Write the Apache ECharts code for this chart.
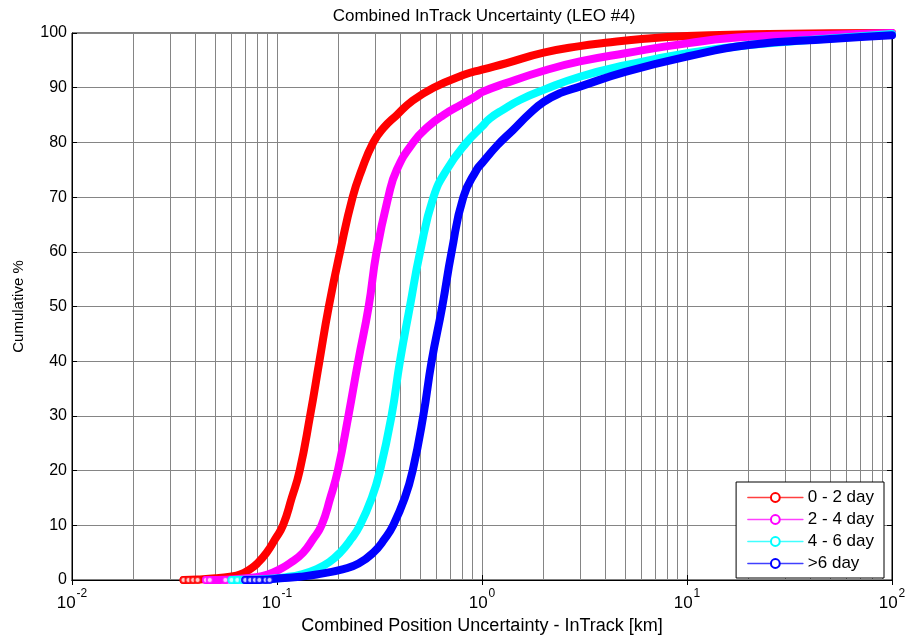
<!DOCTYPE html>
<html>
<head>
<meta charset="utf-8">
<title>Combined InTrack Uncertainty (LEO #4)</title>
<script src="https://cdn.jsdelivr.net/npm/echarts@6/dist/echarts.min.js"></script>
<style>
  html, body { margin: 0; padding: 0; background: #fff; }
  #chart { width: 909px; height: 635px; }
</style>
</head>
<body>
<div id="chart"></div>
<script>
// Cumulative distribution of combined in-track position uncertainty [km] vs. cumulative %
const seriesNames = ['0 - 2 day', '2 - 4 day', '4 - 6 day', '>6 day'];
const seriesColors = ['#ff0000', '#ff00ff', '#00ffff', '#0000ff'];

const cdf0to2 = [
  [0.035, 0], [0.041, 0.1], [0.05, 0.3], [0.059, 0.6], [0.066, 1], [0.074, 2], [0.08, 3],
  [0.089, 5], [0.098, 7.5], [0.107, 10], [0.118, 15], [0.129, 20], [0.145, 30], [0.161, 40],
  [0.179, 50], [0.203, 60], [0.234, 70], [0.259, 75], [0.295, 80], [0.33, 82.6], [0.384, 85],
  [0.454, 87.5], [0.58, 90], [0.81, 92.3], [1.0, 93.3], [1.32, 94.5], [2, 96.4], [3, 97.6],
  [4, 98.2], [6, 98.9], [10, 99.45], [20, 99.75], [50, 99.95], [100, 100]
];
const cdf2to4 = [
  [0.045, 0], [0.06, 0.1], [0.079, 0.5], [0.09, 1], [0.1035, 2], [0.115, 3], [0.134, 5],
  [0.15, 7.5], [0.165, 10], [0.182, 15], [0.198, 20], [0.223, 30], [0.249, 40], [0.28, 50],
  [0.306, 60], [0.349, 70], [0.384, 75], [0.462, 80], [0.55, 83], [0.648, 85], [0.8, 87],
  [0.94, 88.5], [1.0, 89.2], [1.3, 90.8], [2, 93.1], [3, 94.8], [5, 96.3], [10, 98.1],
  [20, 99.3], [50, 99.7], [100, 100]
];
const cdf4to6 = [
  [0.06, 0], [0.08, 0.1], [0.1, 0.3], [0.111, 0.5], [0.13, 1], [0.156, 2], [0.18, 3.3],
  [0.203, 5], [0.23, 7.5], [0.254, 10], [0.29, 15], [0.318, 20], [0.362, 30], [0.398, 40],
  [0.445, 50], [0.499, 60], [0.58, 70], [0.673, 75], [0.842, 80], [1.0, 82.9], [1.094, 84.4],
  [1.27, 86.0], [1.53, 87.75], [2, 89.6], [3, 92], [5, 94.1], [10, 96.3], [20, 97.8],
  [50, 99], [100, 99.8]
];
const cdfOver6 = [
  [0.07, 0], [0.09, 0.1], [0.104, 0.3], [0.13, 0.6], [0.156, 1], [0.211, 2], [0.25, 3],
  [0.295, 5], [0.335, 7.5], [0.369, 10], [0.42, 15], [0.459, 20], [0.517, 30], [0.568, 40],
  [0.64, 50], [0.711, 60], [0.811, 70], [0.942, 75], [1.0, 76.2], [1.19, 79.5], [1.42, 82.3],
  [1.71, 85.3], [2, 87.4], [2.4, 89.0], [3, 90.2], [5, 92.9], [10, 95.7], [20, 97.8],
  [50, 98.9], [100, 99.6]
];

// Sparse lowest samples, drawn as individual open circles
const tail0to2 = [[0.035, 0], [0.037, 0], [0.039, 0], [0.041, 0], [0.047, 0], [0.052, 0]];
const tail2to4 = [[0.045, 0], [0.047, 0], [0.056, 0], [0.062, 0]];
const tail4to6 = [[0.06, 0], [0.064, 0], [0.068, 0], [0.071, 0]];
const tailOver6 = [[0.07, 0], [0.074, 0], [0.078, 0], [0.082, 0], [0.088, 0], [0.092, 0]];

// Logarithmic minor grid positions (2..9 in each decade)
const minorGridX = [
  0.02, 0.03, 0.04, 0.05, 0.06, 0.07, 0.08, 0.09,
  0.2, 0.3, 0.4, 0.5, 0.6, 0.7, 0.8, 0.9,
  2, 3, 4, 5, 6, 7, 8, 9,
  20, 30, 40, 50, 60, 70, 80, 90
];
const yTicks = { min: 0, max: 100, step: 10 };

const curves = [cdf0to2, cdf2to4, cdf4to6, cdfOver6];
const tails = [tail0to2, tail2to4, tail4to6, tailOver6];

const FONT = 'Liberation Sans, Arial, sans-serif';
const gridColor = '#858585';

const lineSeries = curves.map((data, i) => ({
  name: seriesNames[i],
  type: 'line',
  data: data,
  symbol: 'emptyCircle',
  symbolSize: 6,
  showSymbol: false,
  smooth: 0.5,
  lineStyle: { color: seriesColors[i], width: 8, cap: 'round', join: 'round' },
  itemStyle: { color: seriesColors[i] },
  emphasis: { disabled: true },
  z: 3 + i,
  markLine: i === 0 ? {
    silent: true,
    symbol: 'none',
    label: { show: false },
    lineStyle: { color: gridColor, width: 1, type: 'solid' },
    data: minorGridX.map(v => ({ xAxis: v })),
    z: 1
  } : undefined
}));

const tailSeries = tails.map((data, i) => ({
  name: seriesNames[i],
  type: 'scatter',
  data: data,
  symbol: 'emptyCircle',
  symbolSize: 6,
  itemStyle: { color: seriesColors[i], borderColor: seriesColors[i], borderWidth: 1 },
  emphasis: { disabled: true },
  z: 3 + i
}));

const chart = echarts.init(document.getElementById('chart'), null, { renderer: 'canvas' });

chart.setOption({
  backgroundColor: '#fff',
  animation: false,
  title: {
    text: 'Combined InTrack Uncertainty (LEO #4)',
    left: 479,
    top: 3,
    textAlign: 'center',
    textStyle: { fontFamily: FONT, fontSize: 17, fontWeight: 'normal', color: '#000' }
  },
  grid: {
    left: 72, right: 17, top: 33, bottom: 55,
    outerBoundsMode: 'none',
    containLabel: false,
    show: true, borderColor: '#000', borderWidth: 1, backgroundColor: '#fff'
  },
  legend: {
    data: seriesNames,
    orient: 'vertical',
    right: 25,
    bottom: 57,
    backgroundColor: '#fff',
    borderColor: '#000',
    borderWidth: 1,
    borderRadius: 0,
    padding: [7, 10, 6, 11],
    itemGap: 5,
    itemWidth: 55,
    itemHeight: 11,
    textStyle: { fontFamily: FONT, fontSize: 17, color: '#000' },
    lineStyle: { width: 1.5, opacity: 0.75 },
    z: 10
  },
  xAxis: [{
    type: 'log',
    logBase: 10,
    min: 0.01,
    max: 100,
    name: 'Combined Position Uncertainty - InTrack [km]',
    nameLocation: 'middle',
    nameGap: 33,
    nameTextStyle: { fontFamily: FONT, fontSize: 18, color: '#000' },
    axisLine: { show: true, lineStyle: { color: '#000', width: 1 } },
    axisTick: { show: true, inside: true, length: 5, lineStyle: { color: '#000' } },
    splitLine: { show: true, lineStyle: { color: gridColor, width: 1 } },
    axisLabel: {
      margin: 8,
      formatter: function (v) {
        const e = Math.round(Math.log10(v));
        return '{b|10}{e|' + e + '}';
      },
      rich: {
        b: { fontFamily: FONT, fontSize: 17, color: '#000', lineHeight: 24, verticalAlign: 'bottom' },
        e: { fontFamily: FONT, fontSize: 12, color: '#000', lineHeight: 24, verticalAlign: 'top', padding: [0, 0, 0, 1] }
      }
    }
  }, {
    type: 'log',
    logBase: 10,
    min: 0.01,
    max: 100,
    position: 'top',
    axisLine: { show: true, lineStyle: { color: '#000', width: 1 } },
    axisTick: { show: true, inside: true, length: 5, lineStyle: { color: '#000' } },
    axisLabel: { show: false },
    splitLine: { show: false }
  }],
  yAxis: [{
    type: 'value',
    min: yTicks.min,
    max: yTicks.max,
    interval: yTicks.step,
    name: 'Cumulative %',
    nameLocation: 'middle',
    nameGap: 46,
    nameTextStyle: { fontFamily: FONT, fontSize: 15, color: '#000' },
    axisLine: { show: true, lineStyle: { color: '#000', width: 1 } },
    axisTick: { show: true, inside: true, length: 5, lineStyle: { color: '#000' } },
    splitLine: { show: true, lineStyle: { color: gridColor, width: 1 } },
    axisLabel: { fontFamily: FONT, fontSize: 16, color: '#000', margin: 5 }
  }, {
    type: 'value',
    min: yTicks.min,
    max: yTicks.max,
    interval: yTicks.step,
    position: 'right',
    axisLine: { show: true, lineStyle: { color: '#000', width: 1 } },
    axisTick: { show: true, inside: true, length: 5, lineStyle: { color: '#000' } },
    axisLabel: { show: false },
    splitLine: { show: false }
  }],
  series: lineSeries.concat(tailSeries)
});
</script>
</body>
</html>
